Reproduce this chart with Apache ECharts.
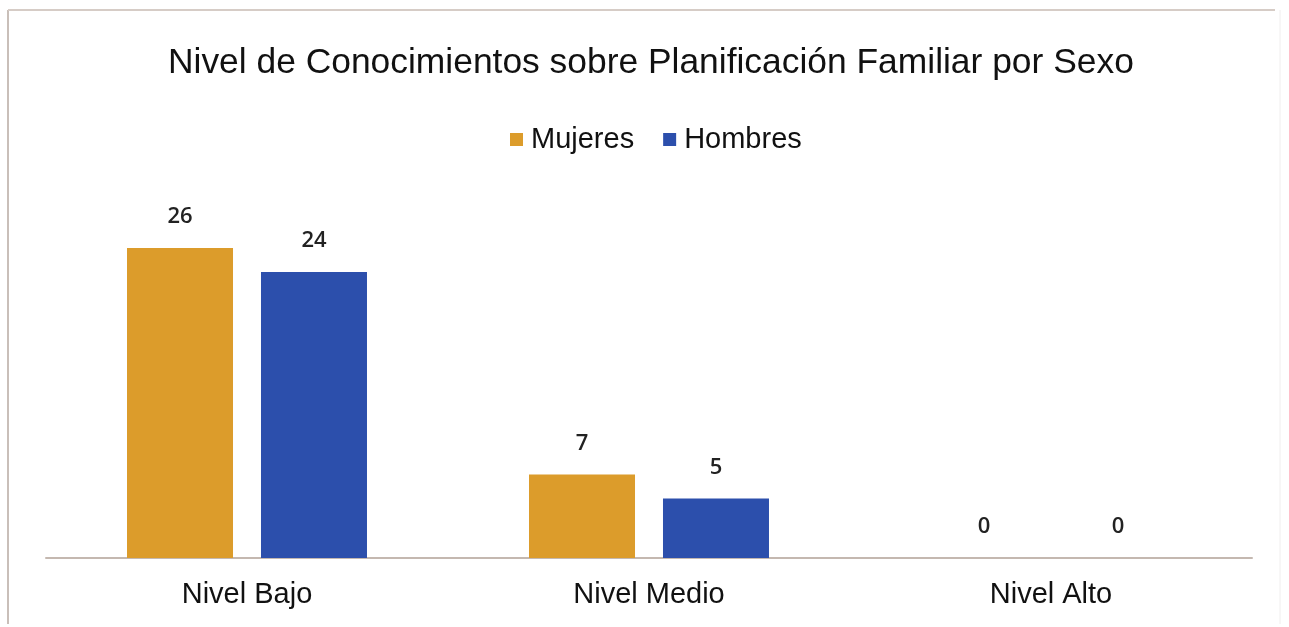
<!DOCTYPE html>
<html>
<head>
<meta charset="utf-8">
<script src="https://cdn.jsdelivr.net/npm/echarts@6/dist/echarts.min.js"></script>
<style>html,body{margin:0;padding:0;background:#fff}#c{width:1289px;height:627px}</style>
</head>
<body>
<div id="c"></div>
<script>
const categories = ['Nivel Bajo', 'Nivel Medio', 'Nivel Alto'];
const mujeres = [26, 7, 0];
const hombres = [24, 5, 0];
const titleText = 'Nivel de Conocimientos sobre Planificación Familiar por Sexo';

const chart = echarts.init(document.getElementById('c'), null, {renderer: 'canvas'});
const labelStyle = {show: true, position: 'top', distance: 20, fontFamily: 'Open Sans, Liberation Sans, sans-serif', fontSize: 22, fontWeight: 600, color: '#222'};
chart.setOption({
  backgroundColor: '#fff',
  animation: false,
  graphic: [
    {type: 'line', shape: {x1: 8, y1: 10, x2: 8, y2: 624}, style: {stroke: '#c9bfb9', lineWidth: 2}},
    {type: 'line', shape: {x1: 8, y1: 10, x2: 1275, y2: 10}, style: {stroke: '#d6ccc6', lineWidth: 2}},
    {type: 'line', shape: {x1: 1280, y1: 10, x2: 1280, y2: 624}, style: {stroke: '#f0eeee', lineWidth: 1}}
  ],
  title: {
    text: titleText, left: 163, top: 41,
    textStyle: {fontFamily: 'Liberation Sans, Arial, sans-serif', fontSize: 35.4, fontWeight: 'normal', color: '#111'}
  },
  legend: {
    top: 120, left: 505, itemWidth: 13, itemHeight: 13, itemGap: 29,
    icon: 'rect',
    textStyle: {fontFamily: 'Liberation Sans, Arial, sans-serif', fontSize: 29, color: '#111', padding: [0, 0, 0, 3]}
  },
  grid: {left: 46, right: 37, top: 200.4, bottom: 69, containLabel: false},
  xAxis: {
    type: 'category', data: categories,
    axisLine: {lineStyle: {color: '#c4b8b0', width: 2}},
    axisTick: {show: false},
    axisLabel: {fontFamily: 'Liberation Sans, Arial, sans-serif', fontSize: 29, color: '#111', margin: 22}
  },
  yAxis: {type: 'value', min: 0, max: 30, show: false, splitLine: {show: false}},
  series: [
    {name: 'Mujeres', type: 'bar', data: mujeres, barWidth: 106, barGap: '26.4%',
     itemStyle: {color: '#DC9C2B'}, label: labelStyle},
    {name: 'Hombres', type: 'bar', data: hombres, barWidth: 106,
     itemStyle: {color: '#2C4FAC'}, label: labelStyle}
  ]
});
</script>
</body>
</html>
